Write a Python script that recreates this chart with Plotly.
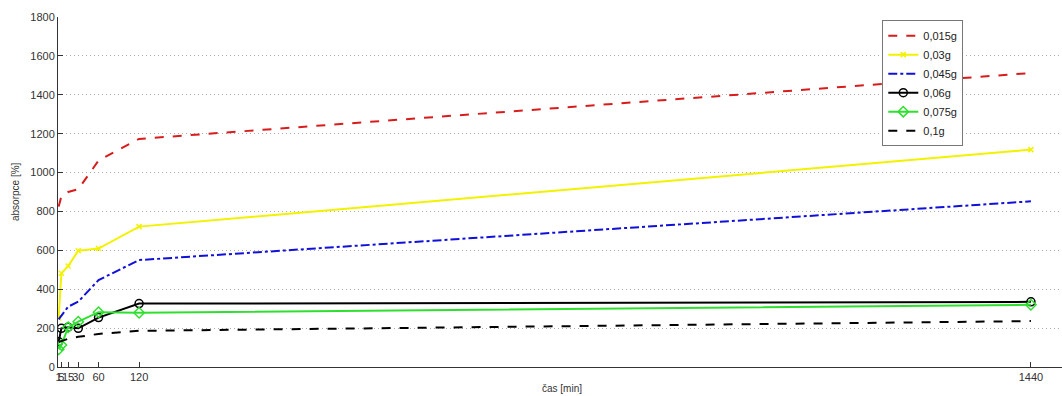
import plotly.graph_objects as go

time_min = [1, 5, 15, 30, 60, 120, 1440]
tick_labels = ["1", "5", "15", "30", "60", "120", "1440"]

s_0015 = [825, 878, 900, 914, 1062, 1173, 1512]
s_003 = [252, 482, 519, 598, 609, 722, 1118]
s_0045 = [245, 265, 310, 336, 447, 550, 852]
s_006 = [130, 199, 205, 199, 254, 326, 335]
s_0075 = [91, 113, 204, 233, 282, 279, 320]
s_01 = [128, 134, 145, 155, 170, 186, 236]

series = [
    ("0,015g", s_0015, "#d81c1c", "dash", None),
    ("0,03g", s_003, "#f2f200", "solid", "x-thin"),
    ("0,045g", s_0045, "#1010d8", "dashdot", None),
    ("0,06g", s_006, "#000000", "solid", "circle-open"),
    ("0,075g", s_0075, "#2ee02e", "solid", "diamond-open"),
    ("0,1g", s_01, "#000000", "dash", None),
]

fig = go.Figure()
for name, vals, col, dash, sym in series:
    mode = "lines+markers" if sym else "lines"
    marker = None
    if sym == "x-thin":
        marker = dict(symbol=sym, size=5, color=col, line=dict(color=col, width=1.5))
    elif sym:
        marker = dict(symbol=sym, size=8, color=col, line=dict(color=col, width=1.5))
    fig.add_trace(go.Scatter(
        x=time_min, y=vals, name=name, mode=mode,
        line=dict(color=col, dash=dash, width=2),
        marker=marker,
    ))

fig.update_layout(
    width=1062, height=396,
    margin=dict(l=58, r=0, t=17, b=29),
    paper_bgcolor="white", plot_bgcolor="white",
    font=dict(family="Liberation Sans, Arial, sans-serif", size=11, color="#333"),
    showlegend=True,
    legend=dict(
        x=0.821, y=0.991, xanchor="left", yanchor="top",
        bgcolor="white", bordercolor="#777", borderwidth=1,
        font=dict(size=11, color="#222"),
        itemwidth=30, tracegroupgap=0,
    ),
    annotations=[
        dict(text="čas [min]", xref="paper", yref="paper", x=0.502, y=-0.06,
             xanchor="center", yanchor="middle", showarrow=False,
             font=dict(size=10, color="#333")),
        dict(text="absorpce [%]", xref="paper", yref="paper", x=-0.0428, y=0.5,
             xanchor="center", yanchor="middle", showarrow=False, textangle=-90,
             font=dict(size=10, color="#333")),
    ],
)
fig.update_xaxes(
    range=[0, 1486], tickmode="array", tickvals=time_min, ticktext=tick_labels,
    tickangle=0, automargin=False,
    ticks="inside", ticklen=5, tickcolor="#333", showgrid=False,
    showline=True, linecolor="#333", linewidth=1, zeroline=False,
    tickfont=dict(size=11),
)
fig.update_yaxes(
    range=[0, 1800], dtick=200, ticks="inside", ticklen=5, tickcolor="#333",
    automargin=False,
    showgrid=True, gridcolor="#aaa", griddash="1px,3px", gridwidth=1,
    showline=True, linecolor="#333", linewidth=1, zeroline=False,
    tickfont=dict(size=11),
)

fig.write_html(
    "out.html",
    config={"displayModeBar": False},
    post_script="document.body.style.margin='0';document.body.style.overflow='hidden';",
)
